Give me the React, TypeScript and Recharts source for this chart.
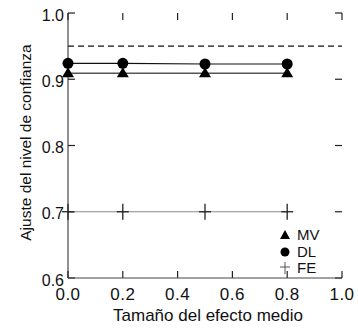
import React from 'react';
import { LineChart, Line, XAxis, YAxis, ReferenceLine, Legend, Label } from 'recharts';

// effect size (x) and coverage per method
const effectSizes = [0, 0.2, 0.5, 0.8];
const mvValues = [0.909, 0.909, 0.909, 0.909];
const dlValues = [0.924, 0.924, 0.923, 0.923];
const feValues = [0.7, 0.7, 0.7, 0.7];
const nominalLevel = 0.95;

const xTicks = [0, 0.2, 0.4, 0.6, 0.8, 1.0];
const yTicks = [0.6, 0.7, 0.8, 0.9, 1.0];
const xDomain = [0, 1];
const yDomain = [0.6, 1.0];

const legendItems = [
  { key: 'MV', label: 'MV' },
  { key: 'DL', label: 'DL' },
  { key: 'FE', label: 'FE' },
];

const data = effectSizes.map((x, i) => ({
  x,
  MV: mvValues[i],
  DL: dlValues[i],
  FE: feValues[i],
}));

const FONT = '"Liberation Sans", Arial, sans-serif';
// inward tick length, in data units (~7px)
const TICK_DY = 0.0105;
const TICK_DX = 0.0255;

const TriangleDot = (props: any) => {
  const { cx, cy } = props;
  if (cx == null || cy == null) return <g key={props.key} />;
  return (
    <path
      key={props.key}
      d={`M${cx},${cy - 6} L${cx + 6},${cy + 4} L${cx - 6},${cy + 4} Z`}
      fill="#000"
    />
  );
};

const CircleDot = (props: any) => {
  const { cx, cy } = props;
  if (cx == null || cy == null) return <g key={props.key} />;
  return <circle key={props.key} cx={cx} cy={cy} r={5.5} fill="#000" />;
};

const PlusDot = (props: any) => {
  const { cx, cy } = props;
  if (cx == null || cy == null) return <g key={props.key} />;
  return (
    <g key={props.key} stroke="#222" strokeWidth={1.3}>
      <line x1={cx} y1={cy - 8} x2={cx} y2={cy + 8} />
      <line x1={cx - 6} y1={cy} x2={cx + 6} y2={cy} />
    </g>
  );
};

const legendMarker = (key: string) => {
  if (key === 'MV') return <path d="M6,2 L11,11 L1,11 Z" fill="#000" />;
  if (key === 'DL') return <circle cx={6} cy={7} r={4.5} fill="#000" />;
  return (
    <g stroke="#555" strokeWidth={1}>
      <line x1={6} y1={1} x2={6} y2={13} />
      <line x1={1} y1={6} x2={11} y2={6} />
    </g>
  );
};

const renderLegend = () => (
  <div style={{ fontFamily: FONT, fontSize: 15, color: '#111', lineHeight: '16px' }}>
    {legendItems.map((item) => (
      <div key={item.key} style={{ display: 'flex', alignItems: 'center', height: 16.5 }}>
        <svg width={12} height={14} style={{ marginRight: 6 }}>
          {legendMarker(item.key)}
        </svg>
        <span>{item.label}</span>
      </div>
    ))}
  </div>
);

export default function App() {
  return (
    <div style={{ position: 'absolute', left: 0, top: 0, background: '#fff', fontFamily: FONT }}>
      <LineChart width={358} height={328} data={data} margin={{ top: 13, right: 16, bottom: 0, left: 0 }}>
        <XAxis
          dataKey="x"
          type="number"
          domain={xDomain}
          ticks={xTicks}
          tickFormatter={(v: number) => v.toFixed(1)}
          height={50}
          tickSize={0}
          tickMargin={10}
          axisLine={{ stroke: '#444' }}
          tickLine={false}
          tick={{ fill: '#111', fontSize: 17, fontFamily: FONT, letterSpacing: 0.5 }}
        >
          <Label
            value="Tamaño del efecto medio"
            position="center"
            dx={3}
            dy={12}
            style={{ fill: '#111', fontSize: 17, fontFamily: FONT }}
          />
        </XAxis>
        <YAxis
          type="number"
          domain={yDomain}
          ticks={yTicks}
          tickFormatter={(v: number) => v.toFixed(1)}
          width={68}
          tickSize={0}
          tickMargin={4}
          axisLine={{ stroke: '#222' }}
          tickLine={false}
          tick={{ fill: '#111', fontSize: 16, fontFamily: FONT, dy: 2 }}
        >
          <Label
            value="Ajuste del nivel de confianza"
            angle={-90}
            position="center"
            dx={-9}
            dy={-3}
            style={{ fill: '#111', fontSize: 15.5, fontFamily: FONT, textAnchor: 'middle' }}
          />
        </YAxis>
        <XAxis
          xAxisId="top"
          orientation="top"
          type="number"
          domain={xDomain}
          ticks={xTicks}
          height={0}
          tick={false}
          axisLine={{ stroke: '#222' }}
          tickLine={false}
        />
        <YAxis
          yAxisId="right"
          orientation="right"
          type="number"
          domain={yDomain}
          ticks={yTicks}
          width={0}
          tick={false}
          axisLine={{ stroke: '#222' }}
          tickLine={false}
        />

        {/* inward tick marks on the four sides of the frame */}
        {xTicks.map((t) => (
          <ReferenceLine
            key={`b-${t}`}
            segment={[{ x: t, y: yDomain[0] }, { x: t, y: yDomain[0] + TICK_DY }]}
            stroke="#222"
            strokeWidth={1.2}
            ifOverflow="visible"
          />
        ))}
        {xTicks.map((t) => (
          <ReferenceLine
            key={`t-${t}`}
            segment={[{ x: t, y: yDomain[1] }, { x: t, y: yDomain[1] - TICK_DY }]}
            stroke="#222"
            strokeWidth={1.2}
            ifOverflow="visible"
          />
        ))}
        {yTicks.map((t) => (
          <ReferenceLine
            key={`l-${t}`}
            segment={[{ x: xDomain[0], y: t }, { x: xDomain[0] + TICK_DX, y: t }]}
            stroke="#222"
            strokeWidth={1.2}
            ifOverflow="visible"
          />
        ))}
        {yTicks.map((t) => (
          <ReferenceLine
            key={`r-${t}`}
            segment={[{ x: xDomain[1], y: t }, { x: xDomain[1] - TICK_DX, y: t }]}
            stroke="#222"
            strokeWidth={1.2}
            ifOverflow="visible"
          />
        ))}

        <ReferenceLine y={nominalLevel} stroke="#111" strokeDasharray="6 4" strokeWidth={1.2} />
        <Line
          dataKey="FE"
          stroke="#8a8a8a"
          strokeWidth={1.2}
          dot={PlusDot}
          activeDot={false}
          isAnimationActive={false}
        />
        <Line
          dataKey="MV"
          stroke="#555"
          strokeWidth={1.4}
          dot={TriangleDot}
          activeDot={false}
          isAnimationActive={false}
        />
        <Line
          dataKey="DL"
          stroke="#111"
          strokeWidth={1.2}
          dot={CircleDot}
          activeDot={false}
          isAnimationActive={false}
        />
        <Legend
          layout="vertical"
          align="center"
          verticalAlign="middle"
          content={renderLegend}
          wrapperStyle={{ position: 'absolute', left: 279, top: 227, width: 'auto' }}
        />
      </LineChart>
    </div>
  );
}
